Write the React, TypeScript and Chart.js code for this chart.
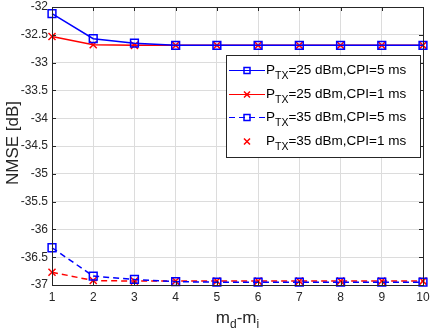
import React, { useEffect, useRef } from "react";
import { Chart, registerables } from "chart.js";

Chart.register(...registerables);

const categories = ["1", "2", "3", "4", "5", "6", "7", "8", "9", "10"];
const p25cpi5 = [-32.12, -32.57, -32.65, -32.69, -32.69, -32.69, -32.69, -32.69, -32.69, -32.69];
const p25cpi1 = [-32.53, -32.68, -32.69, -32.69, -32.69, -32.69, -32.69, -32.69, -32.69, -32.69];
const p35cpi5 = [-36.33, -36.84, -36.9, -36.94, -36.95, -36.95, -36.95, -36.95, -36.95, -36.95];
const p35cpi1 = [-36.77, -36.92, -36.93, -36.93, -36.93, -36.93, -36.93, -36.93, -36.93, -36.93];
const yTicks = [-37, -36.5, -36, -35.5, -35, -34.5, -34, -33.5, -33, -32.5, -32];
const legendEntries = [
  { rest: "=25 dBm,CPI=5 ms", color: "#0000ff", dash: [] as number[], line: true, marker: "sq" },
  { rest: "=25 dBm,CPI=1 ms", color: "#ff0000", dash: [] as number[], line: true, marker: "x" },
  { rest: "=35 dBm,CPI=5 ms", color: "#0000ff", dash: [6, 4], line: true, marker: "sq" },
  { rest: "=35 dBm,CPI=1 ms", color: "#ff0000", dash: [] as number[], line: false, marker: "x" },
];

const FONT = "'Liberation Sans', Arial, Helvetica, sans-serif";
const TEXT = "#262626";

function drawMarker(ctx: CanvasRenderingContext2D, kind: string, x: number, y: number, color: string) {
  ctx.save();
  ctx.setLineDash([]);
  ctx.strokeStyle = color;
  ctx.lineWidth = 1.5;
  if (kind === "sq") {
    ctx.beginPath();
    const r = 3;
    ctx.rect(x - r, y - r, 2 * r, 2 * r);
    ctx.stroke();
  } else {
    const r = 3;
    ctx.beginPath();
    ctx.moveTo(x - r, y - r);
    ctx.lineTo(x + r, y + r);
    ctx.moveTo(x + r, y - r);
    ctx.lineTo(x - r, y + r);
    ctx.stroke();
  }
  ctx.restore();
}

const decorPlugin = {
  id: "decor",
  afterDraw(chart: any) {
    const ctx: CanvasRenderingContext2D = chart.ctx;
    const { left, right, top, bottom } = chart.chartArea;
    const xs = chart.scales.x;
    const ys = chart.scales.y;
    ctx.save();
    ctx.strokeStyle = "#262626";
    ctx.lineWidth = 1;
    ctx.setLineDash([]);
    ctx.strokeRect(Math.round(left) + 0.5, Math.round(top) + 0.5, Math.round(right - left), Math.round(bottom - top));
    ctx.beginPath();
    categories.forEach((_, i) => {
      const px = Math.round(xs.getPixelForValue(i)) + 0.5;
      ctx.moveTo(px, bottom);
      ctx.lineTo(px, bottom - 4);
      ctx.moveTo(px, top);
      ctx.lineTo(px, top + 4);
    });
    yTicks.forEach((v) => {
      const py = Math.round(ys.getPixelForValue(v)) + 0.5;
      ctx.moveTo(left, py);
      ctx.lineTo(left + 4, py);
      ctx.moveTo(right, py);
      ctx.lineTo(right - 4, py);
    });
    ctx.stroke();
    ctx.fillStyle = TEXT;
    ctx.font = `12px ${FONT}`;
    ctx.textAlign = "center";
    ctx.textBaseline = "middle";
    categories.forEach((c, i) => {
      ctx.fillText(c, xs.getPixelForValue(i), bottom + 13);
    });
    ctx.textAlign = "right";
    yTicks.forEach((v) => {
      ctx.fillText(String(v), left - 4, ys.getPixelForValue(v));
    });
    ctx.save();
    ctx.translate(13, 143);
    ctx.rotate(-Math.PI / 2);
    ctx.font = `17px ${FONT}`;
    ctx.textAlign = "center";
    ctx.fillText("NMSE [dB]", 0, 0);
    ctx.restore();
    ctx.textAlign = "left";
    ctx.textBaseline = "alphabetic";
    const parts: [string, boolean][] = [["m", false], ["d", true], ["-m", false], ["i", true]];
    let tw = 0;
    parts.forEach(([t, sub]) => {
      ctx.font = `${sub ? 12 : 17}px ${FONT}`;
      tw += ctx.measureText(t).width;
    });
    let cx = (left + right) / 2 - tw / 2;
    parts.forEach(([t, sub]) => {
      ctx.font = `${sub ? 12 : 17}px ${FONT}`;
      ctx.fillText(t, cx, sub ? 328 : 323);
      cx += ctx.measureText(t).width;
    });
    const lx = 226, ly = 55, lw = 194, lh = 102;
    ctx.fillStyle = "#ffffff";
    ctx.fillRect(lx, ly, lw, lh);
    ctx.strokeStyle = "#262626";
    ctx.strokeRect(lx + 0.5, ly + 0.5, lw, lh);
    const rowY = [70, 94, 117, 141];
    legendEntries.forEach((e, i) => {
      const y = rowY[i];
      if (e.line) {
        ctx.save();
        ctx.strokeStyle = e.color;
        ctx.lineWidth = 1;
        ctx.setLineDash(e.dash);
        ctx.beginPath();
        ctx.moveTo(229, y + 0.5);
        ctx.lineTo(265, y + 0.5);
        ctx.stroke();
        ctx.restore();
      }
      drawMarker(ctx, e.marker, 247, y + 0.5, e.color);
      ctx.fillStyle = "#000000";
      ctx.textBaseline = "alphabetic";
      ctx.font = `13.5px ${FONT}`;
      let tx = 266;
      ctx.fillText("P", tx, y + 4);
      tx += ctx.measureText("P").width;
      ctx.font = `10.5px ${FONT}`;
      ctx.fillText("TX", tx, y + 9);
      tx += ctx.measureText("TX").width;
      ctx.font = `13.5px ${FONT}`;
      ctx.fillText(e.rest, tx, y + 4);
    });
    ctx.restore();
  },
};

export default function App() {
  const ref = useRef<HTMLCanvasElement>(null);
  useEffect(() => {
    if (!ref.current) return;
    const mk = (label: string, data: number[], color: string, dash: number[], style: string) => ({
      label,
      data,
      borderColor: color,
      backgroundColor: "rgba(0,0,0,0)",
      borderWidth: 1.5,
      borderDash: dash,
      pointStyle: style,
      pointRadius: style === "rect" ? 5.5 : 5,
      pointBorderWidth: 1.5,
      pointBorderColor: color,
      pointBackgroundColor: "rgba(0,0,0,0)",
      tension: 0,
      clip: false as const,
    });
    const chart = new Chart(ref.current, {
      type: "line",
      data: {
        labels: categories,
        datasets: [
          mk("P_TX=25 dBm,CPI=5 ms", p25cpi5, "#0000ff", [], "rect"),
          mk("P_TX=25 dBm,CPI=1 ms", p25cpi1, "#ff0000", [], "crossRot"),
          mk("P_TX=35 dBm,CPI=5 ms", p35cpi5, "#0000ff", [6, 4], "rect"),
          mk("P_TX=35 dBm,CPI=1 ms", p35cpi1, "#ff0000", [6, 4], "crossRot"),
        ],
      },
      options: {
        animation: false,
        responsive: false,
        layout: { padding: { left: 52, right: 4, top: 4, bottom: 49 } },
        plugins: { legend: { display: false }, tooltip: { enabled: false } },
        scales: {
          x: {
            type: "category",
            offset: false,
            grid: { color: "#dcdcdc", drawTicks: false },
            border: { display: false },
            ticks: { display: false },
          },
          y: {
            min: -37,
            max: -32,
            ticks: { display: false, stepSize: 0.5 },
            grid: { color: "#dcdcdc", drawTicks: false },
            border: { display: false },
          },
        },
      },
      plugins: [decorPlugin],
    });
    return () => chart.destroy();
  }, []);
  return (
    <div style={{ position: "absolute", left: 0, top: 0, width: 430, height: 334, background: "#fff" }}>
      <canvas ref={ref} width={430} height={334} />
    </div>
  );
}
